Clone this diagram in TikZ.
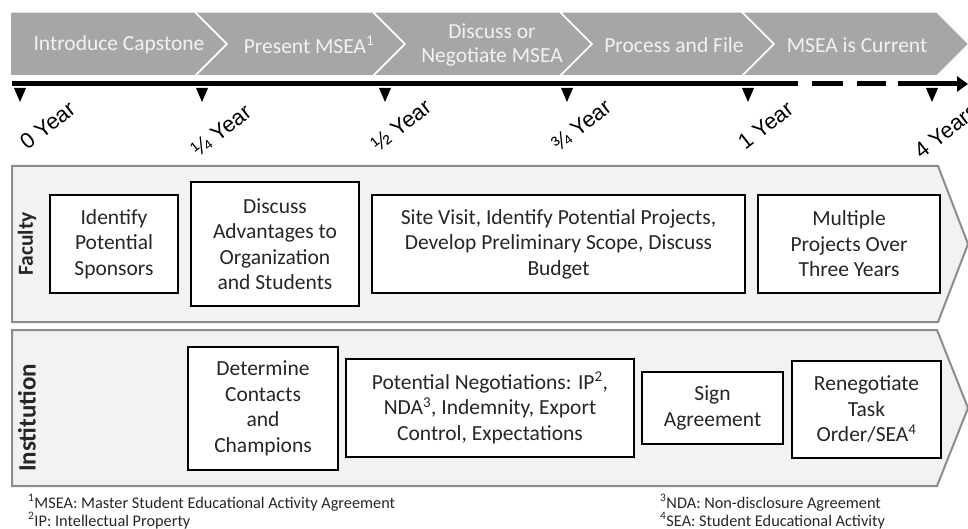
\documentclass[tikz,border=0pt]{standalone}
\usepackage{fontspec}
\setmainfont{Carlito}
\newfontfamily\yearfont{Liberation Sans}
\usetikzlibrary{arrows.meta}

\definecolor{chevgray}{HTML}{A6A6A6}
\definecolor{lanefill}{HTML}{F2F2F2}
\definecolor{laneedge}{HTML}{8C8C8C}
\definecolor{boxtext}{HTML}{262626}

\begin{document}
\begin{tikzpicture}[x=1pt,y=-1pt]
      \tikzset{chevron/.style={fill=chevgray, draw=white, line width=1.5pt},
        chevron text/.style={text=lanefill, align=center, inner sep=0pt,
          font=\fontsize{21.5}{24}\selectfont},
        timeline/.style={line width=5pt, black},
        tick mark/.style={fill=black},
        year label/.style={rotate=38, anchor=base east, inner sep=0pt,
          font=\yearfont\fontsize{22}{22}\selectfont},
        lane/.style={fill=lanefill, draw=laneedge, line width=2pt},
        lane label/.style={rotate=90, text=boxtext,
          font=\bfseries\fontsize{21.5}{26}\selectfont},
        task/.style={draw=black, line width=1.8pt, fill=white, align=center,
          inner sep=0pt, text=boxtext, font=\fontsize{21.5}{25.5}\selectfont},
        note/.style={anchor=base west, inner sep=0pt, text=boxtext,
          font=\fontsize{16.3}{16.3}\selectfont}
      }
      \useasboundingbox (0,0) rectangle (968,529);
      \draw [chevron] (10,12)--(195,12)--(227,44)--(195,76)--(10,76)--cycle;
      \draw [chevron] (195,12)--(373,12)--(405,44)--(373,76)--(195,76)--(227,44)--cycle;
      \draw [chevron] (373,12)--(560,12)--(592,44)--(560,76)--(373,76)--(405,44)--cycle;
      \draw [chevron] (560,12)--(742,12)--(774,44)--(742,76)--(560,76)--(592,44)--cycle;
      \draw [chevron] (742,12)--(937,12)--(969,44)--(937,76)--(742,76)--(774,44)--cycle;
      \node [chevron text] (intro) at (119,45) {Introduce Capstone};
      \node [chevron text] (present) at (309,45) {Present MSEA\textsuperscript{1}};
      \node [chevron text] (discuss) at (492,45) {Discuss or\\Negotiate MSEA};
      \node [chevron text] (process) at (674,45) {Process and File};
      \node [chevron text] (current) at (857,45) {MSEA is Current};

      \coordinate (t start) at (12,84);
      \coordinate (t solid end) at (798,84);
      \coordinate (t dash start) at (812,84);
      \coordinate (t dash end) at (886,84);
      \coordinate (t arrow start) at (898,84);
      \coordinate (t end) at (968,84);
      \draw [timeline] (t start)--(t solid end);
      \draw [timeline, dash pattern=on 31pt off 14pt] (t dash start)--(t dash end);
      \draw [timeline, -{Triangle[length=11pt,width=15pt]}] (t arrow start)--(t end);

      \coordinate (m0) at (20,88);
      \coordinate (m1) at (202,88);
      \coordinate (m2) at (385,88);
      \coordinate (m3) at (567,88);
      \coordinate (m4) at (748,88);
      \coordinate (m5) at (932,88);
      \fill [tick mark] (m0) ++(-6,0) -- ++(12,0) -- ++(-6,14) -- cycle;
      \fill [tick mark] (m1) ++(-6,0) -- ++(12,0) -- ++(-6,14) -- cycle;
      \fill [tick mark] (m2) ++(-6,0) -- ++(12,0) -- ++(-6,14) -- cycle;
      \fill [tick mark] (m3) ++(-6,0) -- ++(12,0) -- ++(-6,14) -- cycle;
      \fill [tick mark] (m4) ++(-6,0) -- ++(12,0) -- ++(-6,14) -- cycle;
      \fill [tick mark] (m5) ++(-6,0) -- ++(12,0) -- ++(-6,14) -- cycle;
      \node [year label] (y0) at (77,112) {0 Year};
      \node [year label] (y1) at (253,115) {¼ Year};
      \node [year label] (y2) at (433,110) {½ Year};
      \node [year label] (y3) at (613,110) {¾ Year};
      \node [year label] (y4) at (795,112) {1 Year};
      \node [year label] (y5) at (980,114) {4 Years};

      \draw [lane] (12,166)--(938,166)--(968,244)--(938,322)--(12,322)--cycle;
      \draw [lane] (12,330)--(937,330)--(968,408)--(937,486)--(12,486)--cycle;
      \node [lane label] (faculty) at (27,244) {Faculty};
      \node [lane label, font=\bfseries\fontsize{25}{26}\selectfont] (institution) at (27,418) {Institution};

      \node [task, minimum width=128pt, minimum height=98pt] (sponsors) at (114,244)
        {Identify\\Potential\\Sponsors};
      \node [task, minimum width=168pt, minimum height=124pt] (advantages) at (275,244)
        {Discuss\\Advantages to\\Organization\\and Students};
      \node [task, minimum width=373pt, minimum height=98pt] (site visit) at (558.5,244)
        {Site Visit, Identify Potential Projects,\\Develop Preliminary Scope, Discuss\\Budget};
      \node [task, minimum width=182pt, minimum height=98pt] (multiple) at (849,244)
        {Multiple\\Projects Over\\Three Years};
      \node [task, minimum width=150pt, minimum height=123pt] (contacts) at (263,408.5)
        {Determine\\Contacts\\and\\Champions};
      \node [task, minimum width=288pt, minimum height=98pt] (negotiations) at (490,408)
        {Potential Negotiations: IP\textsuperscript{2},\\NDA\textsuperscript{3}, Indemnity, Export\\Control, Expectations};
      \node [task, minimum width=141pt, minimum height=72pt] (sign) at (712.5,408)
        {Sign\\Agreement};
      \node [task, minimum width=149pt, minimum height=97pt] (renegotiate) at (866.5,409.5)
        {Renegotiate\\Task\\Order/SEA\textsuperscript{4}};

      \node [note] (note1) at (28,508) {\textsuperscript{1}MSEA: Master Student Educational Activity Agreement};
      \node [note] (note2) at (28,526) {\textsuperscript{2}IP: Intellectual Property};
      \node [note] (note3) at (660,508) {\textsuperscript{3}NDA: Non-disclosure Agreement};
      \node [note] (note4) at (660,526) {\textsuperscript{4}SEA: Student Educational Activity};
    \end{tikzpicture}
\end{document}
